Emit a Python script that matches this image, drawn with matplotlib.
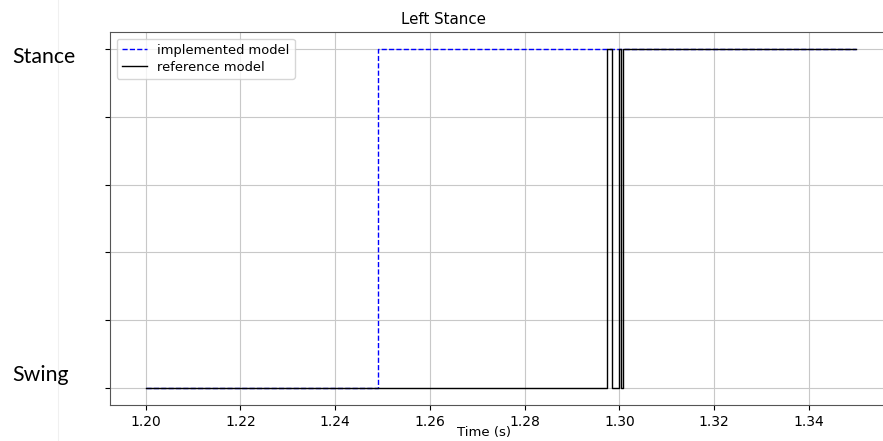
import numpy as np
import matplotlib
matplotlib.use("Agg")
import matplotlib.pyplot as plt
from matplotlib.lines import Line2D

# data: step signals (0 = swing, 1 = stance)
impl_t = [1.200, 1.249, 1.350]
impl_v = [0, 1, 1]
ref_t = [1.200, 1.2974, 1.2984, 1.3000, 1.3004, 1.3007, 1.350]
ref_v = [0, 1, 0, 1, 0, 1, 1]
xticks = [1.20, 1.22, 1.24, 1.26, 1.28, 1.30, 1.32, 1.34]
yticks = [0, 0.2, 0.4, 0.6, 0.8, 1.0]


def main():
    fig = plt.figure(figsize=(8.83, 4.41), dpi=100)
    ax = fig.add_axes([0.1246, 0.0816, 0.8856, 0.8458])

    ax.plot(impl_t, impl_v, color="blue", linestyle="--", linewidth=1.0,
            drawstyle="steps-post", label="implemented model")
    ax.plot(ref_t, ref_v, color="black", linewidth=1.0,
            drawstyle="steps-post", label="reference model")

    ax.set_xticks(xticks)
    ax.set_xticklabels(["%.2f" % t for t in xticks], fontsize=10)
    ax.set_yticks(yticks)
    ax.set_yticklabels([])
    ax.grid(True, color="#c8c8c8", linewidth=0.8)
    ax.set_axisbelow(True)
    for s in ax.spines.values():
        s.set_color("#555555")
    ax.spines["right"].set_visible(False)

    ax.set_title("Left Stance", fontsize=10.8, x=0.427)
    ax.set_xlabel("Time (s)", fontsize=9.5)
    ax.xaxis.set_label_coords(0.478, -0.057)
    ax.legend(loc="upper left", fontsize=9.4, labelspacing=0.3, handlelength=1.9)

    # state labels on the left
    fig.text(12 / 883, 0.857, "Stance", family=["Lato", "DejaVu Sans"], fontsize=15.3, va="baseline")
    fig.text(12 / 883, 0.136, "Swing", family=["Lato", "DejaVu Sans"], fontsize=15.3, va="baseline")
    fig.add_artist(Line2D([58 / 883, 58 / 883], [0, 1], color="#f0f0f0", linewidth=0.8))

    fig.savefig("out.png", dpi=100)


if __name__ == '__main__':
    main()
